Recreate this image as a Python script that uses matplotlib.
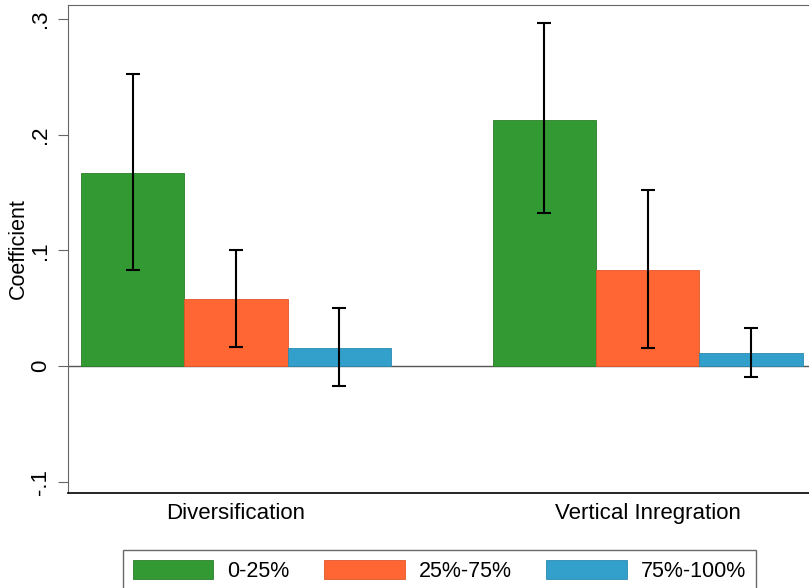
import matplotlib.pyplot as plt
import numpy as np

plt.rcParams["font.family"] = ["Liberation Sans", "DejaVu Sans"]

categories = ["Diversification", "Vertical Inregration"]
series_labels = ["0-25%", "25%-75%", "75%-100%"]
coef = [
    [0.167, 0.213],   # 0-25%
    [0.058, 0.083],   # 25%-75%
    [0.0155, 0.011],  # 75%-100%
]
ci_low = [
    [0.083, 0.132],
    [0.017, 0.016],
    [-0.017, -0.0095],
]
ci_high = [
    [0.252, 0.296],
    [0.100, 0.152],
    [0.050, 0.033],
]
colors = ["#339933", "#ff6633", "#33a0cc"]
edges = ["#2a7f2a", "#e0552a", "#2b8ab0"]

fig = plt.figure(figsize=(8.09, 5.88), dpi=100)
ax = fig.add_axes([0.0841, 0.1616, 0.925, 0.83])

x = np.arange(len(categories))
width = 0.251
for i, label in enumerate(series_labels):
    pos = x + (i - 1) * width
    vals = np.array(coef[i])
    lo = vals - np.array(ci_low[i])
    hi = np.array(ci_high[i]) - vals
    ax.bar(pos, vals, width=width, color=colors[i], edgecolor=edges[i],
           linewidth=0.6, label=label, zorder=2)
    ax.errorbar(pos, vals, yerr=[lo, hi], fmt="none", ecolor="black",
                elinewidth=1.5, capsize=5, capthick=1.5, zorder=3)

ax.axhline(0, color="#555555", linewidth=1.0, zorder=1)
ax.set_xlim(-0.408, 1.41)
ax.set_ylim(-0.1095, 0.312)
ax.set_yticks([-0.1, 0, 0.1, 0.2, 0.3])
ax.set_yticklabels(["-.1", "0", ".1", ".2", ".3"], rotation=90, va="center", fontsize=16)
ax.set_xticks(x)
ax.set_xticklabels(categories, fontsize=16)
ax.tick_params(axis="x", length=0, pad=7)
ax.tick_params(axis="y", length=7, color="#666666", pad=5)
ax.set_ylabel("Coefficient", fontsize=15.5, labelpad=1)
for side in ["left", "top", "right"]:
    ax.spines[side].set_color("#666666")
ax.spines["bottom"].set_color("black")
ax.spines["bottom"].set_linewidth(1.2)

fig.legend(loc="upper left", bbox_to_anchor=(123 / 809, 38 / 588), ncol=3,
           fontsize=15.5, frameon=True, fancybox=False, edgecolor="#444444",
           handlelength=3.75, handleheight=1.0, handletextpad=0.65,
           columnspacing=1.6, borderpad=0.45, borderaxespad=0)

fig.savefig("out.png", dpi=100, facecolor="white")
